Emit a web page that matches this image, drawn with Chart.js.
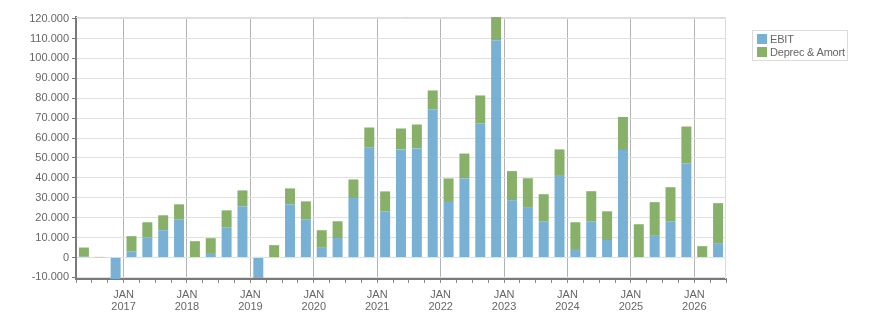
<!DOCTYPE html>
<html>
<head>
<meta charset="utf-8">
<script src="https://cdn.jsdelivr.net/npm/chart.js@4.4.1/dist/chart.umd.min.js"></script>
<style>
  body { margin: 0; background: #fff; }
  #contenedor { position: relative; width: 876px; height: 313px; }
  #leyenda {
    position: absolute; left: 752px; top: 30px; width: 94px;
    border: 1px solid #dcdcdc; padding: 2px 0 1px 0;
    font: 11px "Liberation Sans", Arial, sans-serif; color: #666;
    letter-spacing: -0.2px;
  }
  #leyenda div { height: 13px; line-height: 13px; padding-left: 4px; white-space: nowrap; }
  #leyenda span { display: inline-block; width: 10px; height: 10px; margin-right: 3px; vertical-align: -1px; }
</style>
</head>
<body>
<div id="contenedor">
  <canvas id="grafico" width="876" height="313"></canvas>
  <div id="leyenda"></div>
</div>
<script>
// trimestres desde Q2 2016 hasta Q2 2026
const trimestres = [
    "Q2 2016", "Q3 2016", "Q4 2016",
    "Q1 2017", "Q2 2017", "Q3 2017", "Q4 2017",
    "Q1 2018", "Q2 2018", "Q3 2018", "Q4 2018",
    "Q1 2019", "Q2 2019", "Q3 2019", "Q4 2019",
    "Q1 2020", "Q2 2020", "Q3 2020", "Q4 2020",
    "Q1 2021", "Q2 2021", "Q3 2021", "Q4 2021",
    "Q1 2022", "Q2 2022", "Q3 2022", "Q4 2022",
    "Q1 2023", "Q2 2023", "Q3 2023", "Q4 2023",
    "Q1 2024", "Q2 2024", "Q3 2024", "Q4 2024",
    "Q1 2025", "Q2 2025", "Q3 2025", "Q4 2025",
    "Q1 2026", "Q2 2026"
];

const nombresSeries = ["EBIT", "Deprec & Amort"];
const coloresSeries = ["#78b1d3", "#88b069"];

const ebit = [
    400, -100, -12000,
    3100, 10000, 13700, 19200,
    -300, 1800, 15000, 25700,
    -10300, -200, 26700, 19200,
    5200, 9800, 29900, 55200,
    23200, 54300, 54800, 74300,
    27900, 39700, 67300, 109100,
    28800, 25300, 18200, 41000,
    3800, 18200, 8800, 54000,
    -300, 10900, 18200, 47400,
    -300, 7200
];

const deprecAmort = [
    4600, 300, 200,
    7600, 7700, 7500, 7500,
    8200, 7900, 8700, 8000,
    300, 6200, 8000, 9000,
    8500, 8400, 9300, 10100,
    10000, 10500, 12000, 9600,
    11800, 12500, 14100, 12000,
    14600, 14500, 13600, 13300,
    13900, 15100, 14400, 16600,
    16700, 16900, 17100, 18400,
    5700, 20100
];

// etiquetas del eje
const anos = [2017, 2018, 2019, 2020, 2021, 2022, 2023, 2024, 2025, 2026];
const ticksY = [-10000, 0, 10000, 20000, 30000, 40000, 50000, 60000,
                70000, 80000, 90000, 100000, 110000, 120000];

const fuente = { family: "'Liberation Sans', Arial, sans-serif", size: 11 };

function formatoMiles(v) {
    const s = String(Math.abs(v)).replace(/\B(?=(\d{3})+(?!\d))/g, ".");
    return (v < 0 ? "-" : "") + s;
}

// indice de borde de trimestre -> es enero?
function esEnero(k) {
    return k >= 3 && (k - 3) % 4 === 0;
}

// borde claro arriba y a la derecha del area
const marco = {
    id: "marco",
    beforeDatasetsDraw(chart) {
        const a = chart.chartArea;
        const ctx = chart.ctx;
        ctx.save();
        ctx.strokeStyle = "#dcdcdc";
        ctx.lineWidth = 1;
        ctx.beginPath();
        ctx.moveTo(a.left, a.top + 0.5);
        ctx.lineTo(a.right - 0.5, a.top + 0.5);
        ctx.lineTo(a.right - 0.5, a.bottom);
        ctx.stroke();
        ctx.restore();
    }
};

const chart = new Chart(document.getElementById("grafico"), {
    type: "bar",
    data: {
        labels: trimestres,
        datasets: [
            { label: nombresSeries[0], data: ebit, backgroundColor: coloresSeries[0] },
            { label: nombresSeries[1], data: deprecAmort, backgroundColor: coloresSeries[1] }
        ]
    },
    options: {
        responsive: false,
        animation: false,
        layout: { padding: { top: 17, right: 150, left: 0, bottom: 0 } },
        datasets: {
            bar: { categoryPercentage: 1, barPercentage: 0.63 }
        },
        plugins: {
            legend: { display: false },
            tooltip: { enabled: false }
        },
        scales: {
            x: {
                type: "category",
                stacked: true,
                display: false,
                offset: true
            },
            x2: {
                type: "linear",
                position: "bottom",
                min: 0,
                max: trimestres.length,
                offset: false,
                afterFit(scale) { scale.height = 34; },
                ticks: {
                    stepSize: 1,
                    autoSkip: false,
                    maxRotation: 0,
                    padding: 6,
                    color: "#666",
                    font: { ...fuente, lineHeight: 1.06 },
                    callback(v) {
                        if (!esEnero(v)) return "";
                        return ["JAN", String(anos[(v - 3) / 4])];
                    }
                },
                grid: {
                    offset: false,
                    color: ctx => (ctx.tick && esEnero(ctx.tick.value)) ? "#b4b4b4" : "rgba(0,0,0,0)",
                    tickColor: "#8a8a8a",
                    tickLength: 4,
                    lineWidth: 1
                },
                border: { color: "#7a7a7a", width: 2 }
            },
            y: {
                stacked: true,
                min: -10800,
                max: 120800,
                afterFit(scale) { scale.width = 76; },
                afterBuildTicks(scale) {
                    scale.ticks = ticksY.map(v => ({ value: v }));
                },
                ticks: {
                    color: "#666",
                    font: fuente,
                    padding: 3,
                    callback: v => formatoMiles(v)
                },
                grid: {
                    color: "#e0e0e0",
                    tickColor: "#7a7a7a",
                    tickLength: 4
                },
                border: { color: "#7a7a7a", width: 2 }
            }
        }
    },
    plugins: [marco]
});

// leyenda en html
const leyenda = document.getElementById("leyenda");
nombresSeries.forEach((nombre, i) => {
    const fila = document.createElement("div");
    const cuadro = document.createElement("span");
    cuadro.style.background = coloresSeries[i];
    fila.appendChild(cuadro);
    fila.appendChild(document.createTextNode(nombre));
    leyenda.appendChild(fila);
});
</script>
</body>
</html>
